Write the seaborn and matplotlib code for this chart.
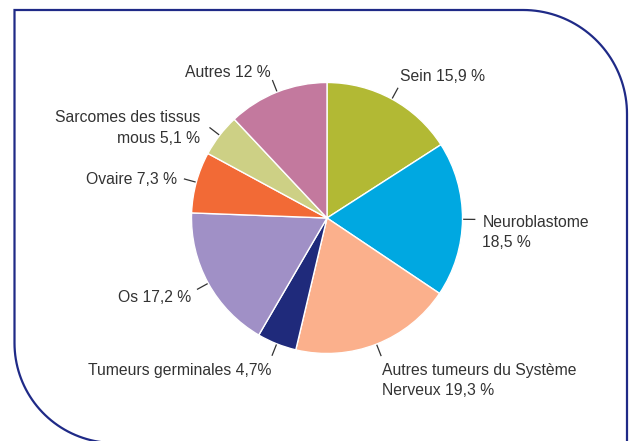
import numpy as np
import matplotlib
matplotlib.use("Agg")
import matplotlib.pyplot as plt
import seaborn as sns
from matplotlib.path import Path
from matplotlib.patches import PathPatch

# ---- data ----
categories = ["Sein", "Neuroblastome", "Autres tumeurs du Système Nerveux",
              "Tumeurs germinales", "Os", "Ovaire", "Sarcomes des tissus mous", "Autres"]
values = [15.9, 18.5, 19.3, 4.7, 17.2, 7.3, 5.1, 12.0]
labels = ["Sein 15,9 %", "Neuroblastome\n18,5 %", "Autres tumeurs du Système\nNerveux 19,3 %",
          "Tumeurs germinales 4,7%", "Os 17,2 %", "Ovaire 7,3 %",
          "Sarcomes des tissus\nmous 5,1 %", "Autres 12 %"]
colors = ["#b2b934", "#00a8e1", "#fbb08c", "#1f2a7b", "#a090c6", "#f26a36", "#cdd085", "#c3799e"]

# ---- layout (pixel offsets of label from leader-line end; alignment) ----
label_offsets = [(2, -11), (7, 13), (1, 24.5), (-1, 15), (-6, 8.5), (-7, 1), (-9.5, 0.5), (-2, -8)]
label_ha = ["left", "left", "left", "right", "right", "right", "right", "right"]

W, H = 629, 441
sns.set_theme(style="white")
plt.rcParams["font.family"] = ["Liberation Sans", "DejaVu Sans"]

fig = plt.figure(figsize=(W / 100, H / 100), dpi=100)
ax = fig.add_axes([0, 0, 1, 1])

cx, cy, R = 327, H - 218, 135.5
pal = sns.color_palette(colors)
wedges, _ = ax.pie(values, colors=pal, startangle=90, counterclock=False,
                   center=(cx, cy), radius=R,
                   wedgeprops=dict(edgecolor="white", linewidth=1.0))

txt_color = "#333333"
for w, lab, (dx, dy), ha in zip(wedges, labels, label_offsets, label_ha):
    ang = np.deg2rad((w.theta1 + w.theta2) / 2)
    c, s = np.cos(ang), np.sin(ang)
    r0, r1 = R * 1.005, R * 1.095
    ax.plot([cx + r0 * c, cx + r1 * c], [cy + r0 * s, cy + r1 * s],
            color=txt_color, lw=0.9, solid_capstyle="butt")
    ex, ey = cx + r1 * c, cy + r1 * s
    ax.text(ex + dx, ey - dy, lab, ha=ha, va="center", multialignment=ha,
            fontsize=11.3, color=txt_color, linespacing=1.45)

# ---- rounded frame ----
frame_col = "#1f2a87"
pts = [(627, -20), (627, H - 114)]
rc = 104
t = np.linspace(0, np.pi / 2, 40)
pts += [(523 + rc * np.cos(a), H - 114 + rc * np.sin(a)) for a in t]
pts += [(14.5, H - 10), (14.5, H - 343)]
rb = 100
t2 = np.linspace(np.pi, 1.5 * np.pi, 40)
pts += [(114.5 + rb * np.cos(a), H - 343 + rb * np.sin(a)) for a in t2]
pts += [(W + 20, H - 443)]
ax.add_patch(PathPatch(Path(pts), fill=False, edgecolor=frame_col, lw=1.6, clip_on=False))

ax.set_xlim(0, W)
ax.set_ylim(0, H)
ax.set_aspect("auto")
ax.axis("off")
fig.savefig("out.png", dpi=100)
